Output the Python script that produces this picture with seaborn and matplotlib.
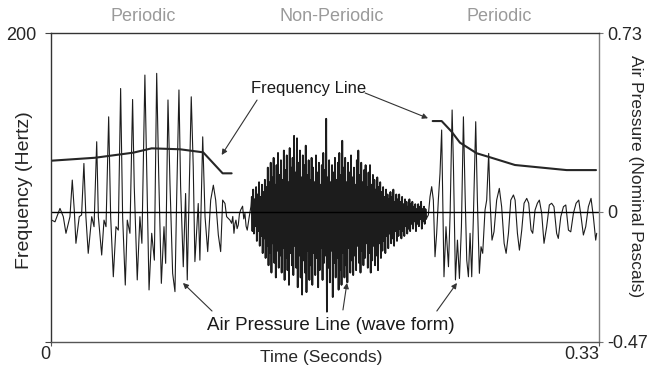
import numpy as np
import pandas as pd
import matplotlib
matplotlib.use("Agg")
import matplotlib.pyplot as plt
import seaborn as sns

# ---------------------------------------------------------------
# Fundamental frequency contour (seconds, Hz) - two voiced stretches
# ---------------------------------------------------------------
freq_time_1 = [0.0006, 0.0267, 0.0497, 0.0608, 0.0778, 0.0918, 0.1035, 0.1089]
freq_hz_1 = [117.4, 119.3, 122.6, 125.4, 124.8, 122.8, 109.2, 109.2]
freq_time_2 = [0.2299, 0.2353, 0.2413, 0.2463, 0.2564, 0.2644, 0.2794, 0.3105, 0.3282]
freq_hz_2 = [143.1, 143.1, 136.2, 129.1, 122.2, 119.6, 114.6, 111.3, 111.3]

# ---------------------------------------------------------------
# Air pressure wave form (time in ms, nominal pascals)
# ---------------------------------------------------------------
# first periodic stretch (turning points of each glottal cycle)
periodic_1 = [
    (0.6, -0.035), (2.6, -0.042), (5.6, 0.013), (7.6, -0.021), (9.2, -0.089),
    (11.6, -0.021), (13.0, 0.129), (14.2, 0.006), (15.2, -0.130), (17.2, -0.021),
    (18.6, -0.014), (20.0, 0.197), (21.2, -0.021), (22.6, -0.171), (24.7, -0.021),
    (26.1, -0.062), (27.7, 0.286), (28.7, -0.021), (30.7, -0.178), (32.1, -0.035),
    (33.3, -0.062), (34.9, 0.388), (36.1, -0.021), (37.7, -0.267), (39.3, -0.062),
    (40.7, -0.076), (42.1, 0.504), (43.3, -0.021), (44.9, -0.301), (46.1, -0.035),
    (47.7, -0.089), (49.3, 0.459), (50.3, 0.102), (52.1, -0.280), (53.7, -0.021),
    (54.9, -0.130), (56.7, 0.559), (57.8, 0.170), (59.2, -0.321), (60.8, -0.089),
    (62.4, -0.199), (63.8, 0.566), (65.0, 0.156), (66.6, -0.294), (68.2, -0.062),
    (69.2, -0.212), (70.6, 0.457), (71.8, 0.115), (73.4, -0.253), (74.8, -0.328),
    (75.8, 0.047), (77.2, 0.498), (78.2, 0.102), (79.8, -0.226), (81.2, 0.074),
    (82.2, -0.280), (84.6, 0.470), (85.8, 0.184), (86.8, -0.205), (88.8, 0.033),
    (89.8, -0.199), (91.5, 0.306), (92.9, -0.021), (94.5, -0.164), (96.3, 0.047),
    (97.9, 0.108), (99.3, 0.047), (100.9, -0.096), (102.3, -0.164), (103.5, 0.047),
    (104.9, 0.033), (105.9, -0.021), (107.9, -0.035),
]

# short low-level stretch before the fricative
transition = [
    (108.9, -0.048), (109.6, -0.020), (110.3, -0.089), (110.9, -0.050), (111.5, -0.035),
    (112.2, -0.070), (112.9, -0.055), (113.6, -0.010), (114.3, 0.006), (115.5, 0.022),
    (116.2, -0.030), (116.9, -0.007), (117.6, -0.060), (118.3, -0.076), (119.5, -0.021),
    (120.5, 0.020),
]

# aperiodic burst: alternating upper and lower excursions
noise_start_ms, noise_end_ms = 121.0, 226.0
noise_high = [
    0.06, 0.09, 0.05, 0.10, 0.07, 0.12, 0.06, 0.11, 0.08, 0.13,
    0.10, 0.18, 0.12, 0.20, 0.14, 0.22, 0.11, 0.19, 0.24, 0.15,
    0.21, 0.13, 0.25, 0.17, 0.23, 0.12, 0.26, 0.18, 0.22, 0.31,
    0.16, 0.30, 0.20, 0.25, 0.14, 0.23, 0.19, 0.27, 0.15, 0.21,
    0.13, 0.22, 0.18, 0.12, 0.23, 0.16, 0.20, 0.11, 0.19, 0.24,
    0.17, 0.38, 0.14, 0.21, 0.12, 0.19, 0.16, 0.22, 0.13, 0.20,
    0.24, 0.15, 0.29, 0.18, 0.22, 0.12, 0.20, 0.16, 0.23, 0.14,
    0.18, 0.11, 0.21, 0.25, 0.15, 0.20, 0.12, 0.17, 0.19, 0.10,
    0.16, 0.19, 0.11, 0.15, 0.13, 0.09, 0.14, 0.10, 0.12, 0.08,
    0.10, 0.06, 0.09, 0.07, 0.05, 0.08, 0.06, 0.09, 0.04, 0.07,
    0.05, 0.07, 0.04, 0.06, 0.03, 0.05, 0.04, 0.02, 0.05, 0.03,
    0.04, 0.02, 0.03, 0.01, 0.03, 0.02, 0.04, 0.01, 0.02, 0.01,
]
noise_low = [
    -0.08, -0.09, -0.06, -0.12, -0.08, -0.14, -0.10, -0.17, -0.11, -0.19,
    -0.14, -0.22, -0.17, -0.25, -0.13, -0.21, -0.27, -0.16, -0.23, -0.18,
    -0.25, -0.15, -0.28, -0.19, -0.24, -0.30, -0.17, -0.22, -0.26, -0.14,
    -0.23, -0.31, -0.18, -0.27, -0.34, -0.20, -0.25, -0.33, -0.16, -0.28,
    -0.22, -0.30, -0.17, -0.26, -0.19, -0.31, -0.24, -0.15, -0.28, -0.21,
    -0.18, -0.41, -0.23, -0.29, -0.16, -0.35, -0.21, -0.27, -0.19, -0.32,
    -0.24, -0.30, -0.17, -0.27, -0.22, -0.29, -0.15, -0.25, -0.20, -0.26,
    -0.18, -0.24, -0.14, -0.21, -0.25, -0.16, -0.22, -0.19, -0.13, -0.23,
    -0.17, -0.25, -0.20, -0.14, -0.22, -0.18, -0.24, -0.13, -0.19, -0.16,
    -0.12, -0.17, -0.10, -0.15, -0.09, -0.13, -0.11, -0.14, -0.08, -0.12,
    -0.10, -0.07, -0.11, -0.08, -0.10, -0.06, -0.09, -0.07, -0.08, -0.05,
    -0.07, -0.04, -0.08, -0.05, -0.06, -0.03, -0.07, -0.04, -0.05, -0.03,
]

# second periodic stretch
periodic_2 = [
    (227.3, -0.014), (228.3, 0.061), (229.3, 0.102), (230.3, 0.047), (231.3, -0.185),
    (232.3, -0.089), (233.3, 0.047), (234.3, 0.156), (235.3, 0.334), (236.7, -0.267),
    (237.9, -0.062), (239.4, -0.226), (240.4, -0.007), (241.6, 0.416), (242.4, 0.184),
    (243.6, -0.280), (244.8, -0.117), (246.0, -0.274), (247.2, -0.062), (248.4, 0.388),
    (249.4, 0.074), (250.4, -0.199), (251.4, -0.267), (252.4, -0.089), (253.4, -0.267),
    (254.4, -0.021), (255.8, 0.368), (256.8, 0.047), (258.0, -0.253), (259.0, -0.144),
    (260.0, -0.171), (261.4, 0.006), (262.4, 0.047), (263.6, 0.238), (264.4, 0.047),
    (265.6, -0.117), (266.8, -0.083), (268.4, 0.047), (270.0, 0.095), (271.4, 0.020),
    (272.9, -0.130), (274.1, -0.171), (275.5, -0.089), (276.9, 0.047), (278.5, 0.068),
    (279.5, 0.047), (280.9, -0.089), (282.1, -0.158), (283.5, -0.076), (284.9, 0.034),
    (286.5, 0.054), (287.7, 0.034), (289.1, -0.076), (290.1, -0.089), (291.5, 0.006),
    (292.9, 0.034), (294.1, 0.047), (295.5, -0.007), (296.9, -0.130), (298.5, -0.062),
    (300.1, 0.027), (301.5, 0.034), (302.9, 0.020), (304.5, -0.089), (305.5, -0.110),
    (307.0, -0.021), (308.6, 0.020), (310.0, 0.027), (311.6, -0.076), (313.0, -0.083),
    (314.6, -0.007), (316.2, 0.034), (317.8, 0.047), (319.2, -0.021), (320.6, -0.096),
    (322.0, -0.062), (323.6, 0.020), (325.2, 0.054), (326.6, -0.021), (328.0, -0.117),
    (328.6, -0.089),
]

# axis ranges and tick labels
time_range = (0.0, 0.33)
freq_range = (0, 200)
pressure_range = (-0.533, 0.73)
pressure_ticks = [-0.533, 0.0, 0.73]
pressure_tick_labels = ["-0.47", "0", "0.73"]
section_names = ["Periodic", "Non-Periodic", "Periodic"]
section_centres = [0.0556, 0.1689, 0.2700]

# ---------------------------------------------------------------
# assemble the wave form
# ---------------------------------------------------------------
noise_t = np.linspace(noise_start_ms, noise_end_ms, 2 * len(noise_high))
noise_v = np.empty(2 * len(noise_high))
noise_v[0::2] = noise_high
noise_v[1::2] = noise_low

t_ms = np.concatenate([
    [p[0] for p in periodic_1],
    [p[0] for p in transition],
    noise_t,
    [p[0] for p in periodic_2],
])
v = np.concatenate([
    [p[1] for p in periodic_1],
    [p[1] for p in transition],
    noise_v,
    [p[1] for p in periodic_2],
])
wave = pd.DataFrame({"time": t_ms / 1000.0, "pressure": v})
burst = pd.DataFrame({"time": noise_t / 1000.0, "pressure": noise_v})

# ---------------------------------------------------------------
# figure
# ---------------------------------------------------------------
sns.set_theme(style="white")
plt.rcParams["font.family"] = ["Liberation Sans", "DejaVu Sans"]
plt.rcParams["text.color"] = "#1a1a1a"

fig = plt.figure(figsize=(6.48, 3.76), dpi=100)
ax = fig.add_axes([0.0782, 0.0912, 0.8462, 0.8202])
ax2 = ax.twinx()

# pressure wave (the dense burst drawn a little heavier) + zero reference
sns.lineplot(data=wave, x="time", y="pressure", ax=ax2, color="#1c1c1c",
             lw=0.8, estimator=None, sort=False)
sns.lineplot(data=burst, x="time", y="pressure", ax=ax2, color="#1c1c1c",
             lw=1.3, estimator=None, sort=False)
ax2.axhline(0, color="black", lw=1.0)

# frequency contour on top
ax.set_zorder(ax2.get_zorder() + 1)
ax.patch.set_visible(False)
for ft, fh in [(freq_time_1, freq_hz_1), (freq_time_2, freq_hz_2)]:
    sns.lineplot(x=ft, y=fh, ax=ax, color="#262626", lw=1.5, estimator=None)

ax.set_xlim(*time_range)
ax.set_ylim(*freq_range)
ax2.set_ylim(*pressure_range)

# ticks
ax.set_xticks(list(time_range))
ax.set_xticklabels(["0", "0.33"], ha="right")
ax.set_yticks(list(freq_range))
ax.set_yticklabels(["", "200"])
ax2.set_yticks(pressure_ticks)
ax2.set_yticklabels(pressure_tick_labels)
ax.tick_params(axis="x", direction="out", length=3, width=0.8, color="#555555",
               labelsize=13, pad=0, bottom=True)
ax.tick_params(axis="y", direction="out", length=4, width=0.8, color="#444444",
               labelsize=13, pad=6, left=True)
ax2.tick_params(axis="y", direction="out", length=3, width=0.8, color="#777777",
                labelsize=13, pad=3, right=True)
ax2.set_xlabel("")

# frame
for name, sp in ax.spines.items():
    sp.set_visible(name in ("left", "top", "bottom"))
    sp.set_linewidth(1.0)
ax.spines["left"].set_color("#333333")
ax.spines["top"].set_color("#333333")
ax.spines["bottom"].set_color("#555555")
for name, sp in ax2.spines.items():
    sp.set_visible(name == "right")
ax2.spines["right"].set_color("#808080")
ax2.spines["right"].set_linewidth(1.0)

# axis titles
ax.set_xlabel("Time (Seconds)", fontsize=12.5)
ax.xaxis.set_label_coords(0.493, -0.028)
ax.set_ylabel("Frequency (Hertz)", fontsize=14)
ax.yaxis.set_label_coords(-0.032, 0.49)
ax2.set_ylabel("Air Pressure (Nominal Pascals)", fontsize=12.5, rotation=270,
               va="bottom")
ax2.yaxis.set_label_coords(1.052, 0.537)

# section names above the frame
for name, xc in zip(section_names, section_centres):
    ax.text(xc, 1.053, name, transform=ax.get_xaxis_transform(), ha="center",
            va="center", fontsize=13, color="#9a9a9a")

# callouts
arrow = dict(arrowstyle="-|>", lw=0.8, color="#333333", mutation_scale=8,
             shrinkA=0, shrinkB=0)
ax.text(0.1554, 164.5, "Frequency Line", ha="center", va="center", fontsize=12)
ax.annotate("", xy=(0.1029, 121.1), xytext=(0.1242, 156.7), arrowprops=arrow)
ax.annotate("", xy=(0.2271, 144.9), xytext=(0.1892, 161.3), arrowprops=arrow)

ax.text(0.1687, 10.8, "Air Pressure Line (wave form)", ha="center", va="center",
        fontsize=13.5)
ax.annotate("", xy=(0.0796, 38.1), xytext=(0.0971, 19.9), arrowprops=arrow)
ax.annotate("", xy=(0.1783, 38.1), xytext=(0.1759, 20.6), arrowprops=arrow)
ax.annotate("", xy=(0.2445, 38.1), xytext=(0.2324, 19.9), arrowprops=arrow)

fig.savefig("out.png", dpi=100)
